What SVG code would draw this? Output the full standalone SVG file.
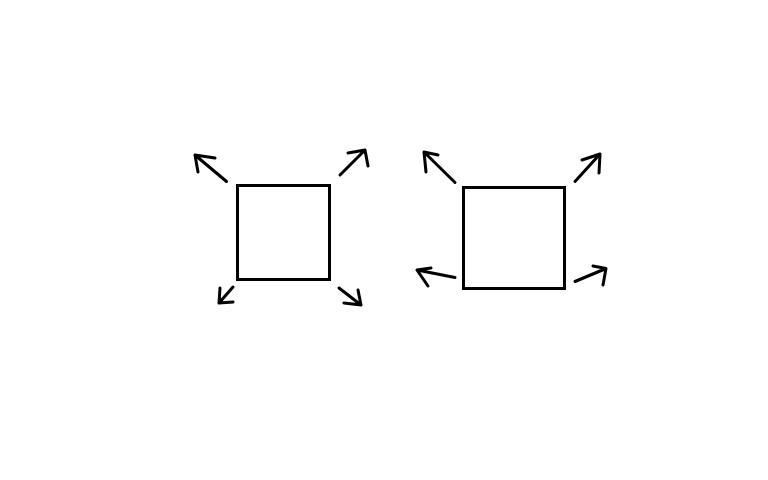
<svg xmlns="http://www.w3.org/2000/svg" width="768" height="480" viewBox="0 0 768 480">
<style>
.box{fill:#fff;stroke:#000;stroke-width:3}
.arr{fill:none;stroke:#000;stroke-width:3;stroke-linecap:round;stroke-linejoin:round}
</style>
<rect width="768" height="480" fill="#fff"/>
<g id="node-left"><rect class="box" x="237.5" y="185.5" width="92" height="94"/></g>
<g id="node-right"><rect class="box" x="463.5" y="187.5" width="101" height="101"/></g>
<g id="connectors">
<path class="arr" d="M226.5,181.5 L195,155 M215,158 L195,155 L198,172"/>
<path class="arr" d="M340,175 L365,150 M348,153 L365,150 L368,166"/>
<path class="arr" d="M233,287 L219,303 M220,288 L219,303 L233,302"/>
<path class="arr" d="M339,288 L361,305 M358,290 L361,305 L344,303"/>
<path class="arr" d="M455,182.5 L424,152 M438,155 L424,152 L426,172"/>
<path class="arr" d="M575,181.5 L600,154 M582,160 L600,154 L599,173"/>
<path class="arr" d="M455,277.5 L417,270 M431,268 L417,270 L428,286"/>
<path class="arr" d="M575,281.5 L606,268.5 M593,266 L606,268.5 L603,285"/>
</g>
</svg>
